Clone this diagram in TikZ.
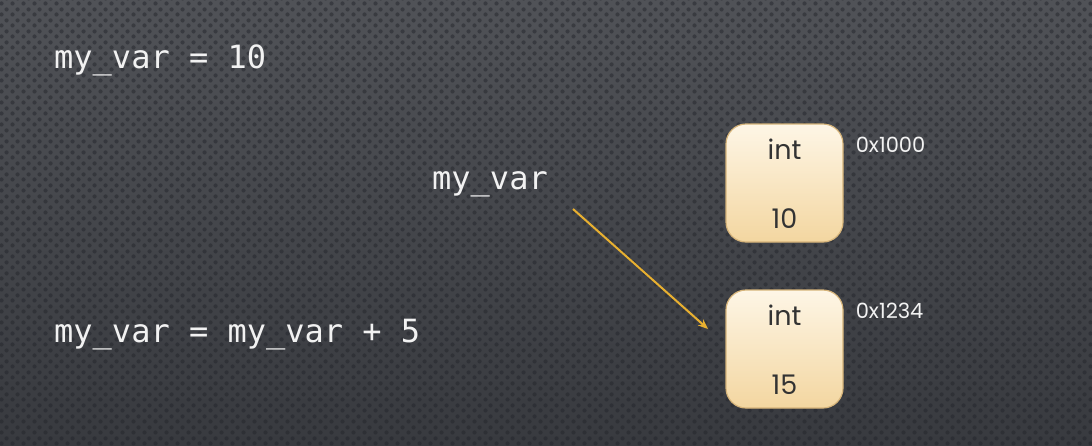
\documentclass[tikz,border=0pt]{standalone}
\usepackage{fontspec}
\usetikzlibrary{positioning,arrows.meta,patterns.meta}
\newfontfamily\codefont{DejaVu Sans Mono}
\newfontfamily\boxfont{Poppins}
\definecolor{bgtop}{RGB}{80,82,87}
\definecolor{bgbot}{RGB}{56,58,63}
\definecolor{dotcol}{RGB}{36,38,44}
\definecolor{boxtop}{RGB}{254,246,230}
\definecolor{boxbot}{RGB}{243,214,160}
\definecolor{boxline}{RGB}{214,180,122}
\definecolor{arrowcol}{RGB}{232,176,48}
\definecolor{codecol}{RGB}{242,242,242}
\tikzdeclarepattern{name=perfdots, type=uncolored,
  bounding box={(0,0) and (11pt,11pt)}, tile size={(11pt,11pt)},
  code={\fill (2.75pt,2.75pt) circle (2.3pt); \fill (8.25pt,8.25pt) circle (2.3pt);}}
\tikzset{
  code/.style={font=\codefont\fontsize{32}{38}\selectfont, text=codecol, anchor=west, inner sep=0pt},
  membox/.style={draw=boxline, line width=1.2pt, rounded corners=20pt, top color=boxtop, bottom color=boxbot,
    minimum width=117pt, minimum height=118pt, inner sep=0pt},
  boxtext/.style={font=\boxfont\fontsize{27}{30}\selectfont, text=black!80, inner sep=0pt},
  addr/.style={font=\boxfont\fontsize{21}{24}\selectfont, text=codecol, anchor=west, inner sep=0pt},
}
\begin{document}
\begin{tikzpicture}[x=1pt,y=-1pt]
% background
\useasboundingbox (0,0) rectangle (1092,445);
\shade[top color=bgtop, bottom color=bgbot] (0,0) rectangle (1092,445);
\fill[pattern=perfdots, pattern color=dotcol, fill opacity=0.5] (0,0) rectangle (1092,445);
% code lines
\node[code] (line1) at (54,60) {my\_var = 10};
\node[code] (line2) at (54,335) {my\_var = my\_var + 5};
\node[code] (name) at (432,184) {my\_var};
% memory boxes
\node[membox] (box1) at (784.5,183) {};
\node[boxtext] (type1) at ([yshift=-26pt]box1.north) {int};
\node[boxtext] (val1) at ([yshift=24pt]box1.south) {10};
\node[addr] (addr1) at ([xshift=12pt,yshift=-21pt]box1.north east) {0x1000};
\node[membox] (box2) at (784.5,349) {};
\node[boxtext] (type2) at ([yshift=-26pt]box2.north) {int};
\node[boxtext] (val2) at ([yshift=24pt]box2.south) {15};
\node[addr] (addr2) at ([xshift=12pt,yshift=-21pt]box2.north east) {0x1234};
% reference arrow
\coordinate (from) at (573,209);
\coordinate (to) at (708,329);
\draw[arrowcol, line width=2pt, -{Stealth[length=10pt,width=8pt]}] (from) -- (to);
\end{tikzpicture}
\end{document}
